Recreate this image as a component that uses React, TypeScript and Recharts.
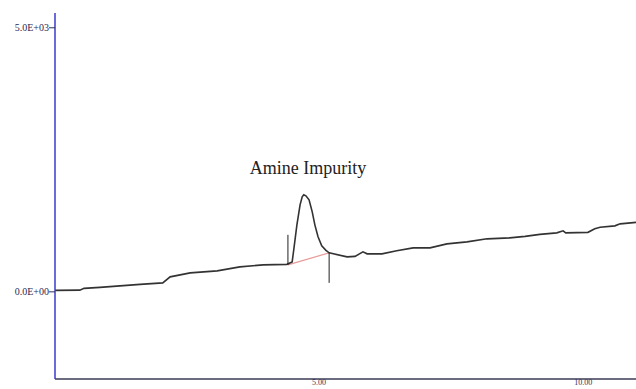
import React from "react";
import { LineChart, Line, XAxis, YAxis, ReferenceDot } from "recharts";

// Chromatogram trace: retention time (min) and detector response
const traceTimes = [0.0, 0.47, 0.55, 0.85, 1.23, 1.61, 2.04, 2.18, 2.56, 3.07, 3.5, 3.94, 4.39, 4.49, 4.52, 4.58, 4.64, 4.68, 4.71, 4.75, 4.81, 4.87, 4.92, 4.98, 5.05, 5.13, 5.19, 5.53, 5.68, 5.83, 5.91, 6.19, 6.47, 6.78, 7.1, 7.42, 7.8, 8.18, 8.61, 8.9, 9.18, 9.5, 9.62, 9.67, 10.09, 10.22, 10.32, 10.6, 10.7, 11.0];
const traceValues = [28, 32, 66, 85, 114, 142, 170, 284, 360, 398, 473, 511, 521, 568, 795, 1269, 1648, 1799, 1837, 1818, 1742, 1515, 1269, 1042, 871, 786, 739, 663, 672, 758, 720, 720, 777, 833, 833, 909, 947, 1004, 1023, 1051, 1089, 1117, 1155, 1117, 1127, 1193, 1222, 1250, 1288, 1316];

// Integration baseline under the peak
const baselineTimes = [4.41, 5.19];
const baselineValues = [511, 739];

// Peak start / end markers
const startMarkerTimes = [4.41, 4.41];
const startMarkerValues = [1080, 511];
const endMarkerTimes = [5.19, 5.19];
const endMarkerValues = [739, 170];

const xTicks = [5, 10];
const yTicks = [0, 5000];
const yTickLabels: Record<number, string> = { 0: "0.0E+00", 5000: "5.0E+03" };
const peakLabel = "Amine Impurity";
const peakLabelTime = 4.79;
const peakLabelValue = 2350;

const zip = (ts: number[], vs: number[]) => ts.map((t, i) => ({ t, v: vs[i] }));

const trace = zip(traceTimes, traceValues);
const baseline = zip(baselineTimes, baselineValues);
const startMarker = zip(startMarkerTimes, startMarkerValues);
const endMarker = zip(endMarkerTimes, endMarkerValues);

export default function App() {
  return (
    <div style={{ position: "absolute", left: 0, top: 0, width: 636, height: 389, background: "#fff" }}>
      <LineChart width={636} height={389} margin={{ top: 13, right: 0, left: 0, bottom: 0 }}>
        <XAxis
          type="number"
          dataKey="t"
          domain={[0, 11]}
          ticks={xTicks}
          allowDataOverflow
          tickFormatter={(v: number) => v.toFixed(2)}
          height={10}
          tickLine={false}
          tickSize={0}
          tickMargin={0}
          axisLine={{ stroke: "#6c6c80", strokeWidth: 2 }}
          tick={{ fill: "#30305a", fontSize: 8, fontFamily: "Liberation Serif" }}
        />
        <YAxis
          type="number"
          dataKey="v"
          domain={[-1650, 5280]}
          ticks={yTicks}
          allowDataOverflow
          width={55}
          tickSize={6}
          tickMargin={0}
          tickFormatter={(v: number) => yTickLabels[v] ?? String(v)}
          axisLine={{ stroke: "#3a3acc", strokeWidth: 1.5 }}
          tickLine={{ stroke: "#30305a" }}
          tick={{ fill: "#2a2a55", fontSize: 10, fontFamily: "Liberation Serif" }}
        />
        <Line data={baseline} dataKey="v" type="linear" stroke="#e89a9a" strokeWidth={1.2} dot={false} isAnimationActive={false} />
        <Line data={trace} dataKey="v" type="linear" stroke="#333333" strokeWidth={1.6} dot={false} isAnimationActive={false} />
        <Line data={startMarker} dataKey="v" type="linear" stroke="#222222" strokeWidth={1} dot={false} isAnimationActive={false} />
        <Line data={endMarker} dataKey="v" type="linear" stroke="#222222" strokeWidth={1} dot={false} isAnimationActive={false} />
        <ReferenceDot
          x={peakLabelTime}
          y={peakLabelValue}
          r={0}
          fill="none"
          stroke="none"
          label={{ value: peakLabel, position: "center", fill: "#222", fontSize: 18, fontFamily: "Liberation Serif" }}
        />
      </LineChart>
    </div>
  );
}
